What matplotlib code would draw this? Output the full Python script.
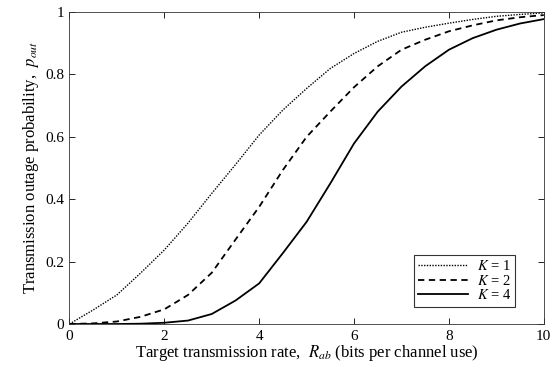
import matplotlib
matplotlib.use("Agg")
import matplotlib.pyplot as plt

# values
rate = [0, 0.5, 1, 1.5, 2, 2.5, 3, 3.5, 4, 4.5, 5, 5.5, 6, 6.5, 7, 7.5, 8, 8.5, 9, 9.5, 10]
p_k1 = [0, 0.045, 0.093, 0.163, 0.237, 0.323, 0.418, 0.51, 0.605, 0.685, 0.754, 0.818, 0.866,
        0.905, 0.934, 0.95, 0.963, 0.975, 0.985, 0.991, 0.996]
p_k2 = [0, 0.002, 0.008, 0.023, 0.047, 0.093, 0.164, 0.27, 0.375, 0.493, 0.599, 0.68, 0.758,
        0.825, 0.878, 0.91, 0.937, 0.956, 0.972, 0.982, 0.989]
p_k4 = [0, 0, 0, 0.001, 0.004, 0.011, 0.032, 0.075, 0.13, 0.227, 0.327, 0.45, 0.578,
        0.68, 0.76, 0.825, 0.878, 0.915, 0.942, 0.962, 0.976]

x_ticks = [0, 2, 4, 6, 8, 10]
y_ticks = [0, 0.2, 0.4, 0.6, 0.8, 1]
y_tick_labels = ['0', '0.2', '0.4', '0.6', '0.8', '1']

plt.rcParams['font.family'] = ['Liberation Serif', 'DejaVu Serif']
plt.rcParams['mathtext.fontset'] = 'stix'

fig = plt.figure(figsize=(5.6, 3.75), dpi=100)
ax = fig.add_axes([0.124, 0.136, 0.847, 0.833])

ax.plot(rate, p_k1, color='black', linestyle=(0, (1, 1)), linewidth=1.0, label='$K$ = 1')
ax.plot(rate, p_k2, color='black', linestyle=(0, (3.5, 2.5)), linewidth=1.3, label='$K$ = 2')
ax.plot(rate, p_k4, color='black', linestyle='-', linewidth=1.3, label='$K$ = 4')

ax.set_xlim(0, 10)
ax.set_ylim(0, 1)
ax.set_xticks(x_ticks)
ax.set_yticks(y_ticks)
ax.set_yticklabels(y_tick_labels)
ax.tick_params(direction='in', top=True, right=True, labelsize=11, length=4, width=0.6, pad=4)
for s in ax.spines.values():
    s.set_linewidth(0.6)
    s.set_color('#333333')

ax.set_xlabel('Target transmission rate,  $R_{ab}$ (bits per channel use)', fontsize=12, labelpad=0)
ax.set_ylabel('Transmission outage probability,  $p_{out}$', fontsize=12, labelpad=3)

leg = ax.legend(loc='lower right', bbox_to_anchor=(0.94, 0.055), fontsize=10.5, frameon=True,
                fancybox=False, borderaxespad=0, handlelength=3.4, handletextpad=0.6,
                borderpad=0.3, labelspacing=0.05)
leg.get_frame().set_edgecolor('black')
leg.get_frame().set_linewidth(0.8)

fig.savefig('out.png', dpi=100)
